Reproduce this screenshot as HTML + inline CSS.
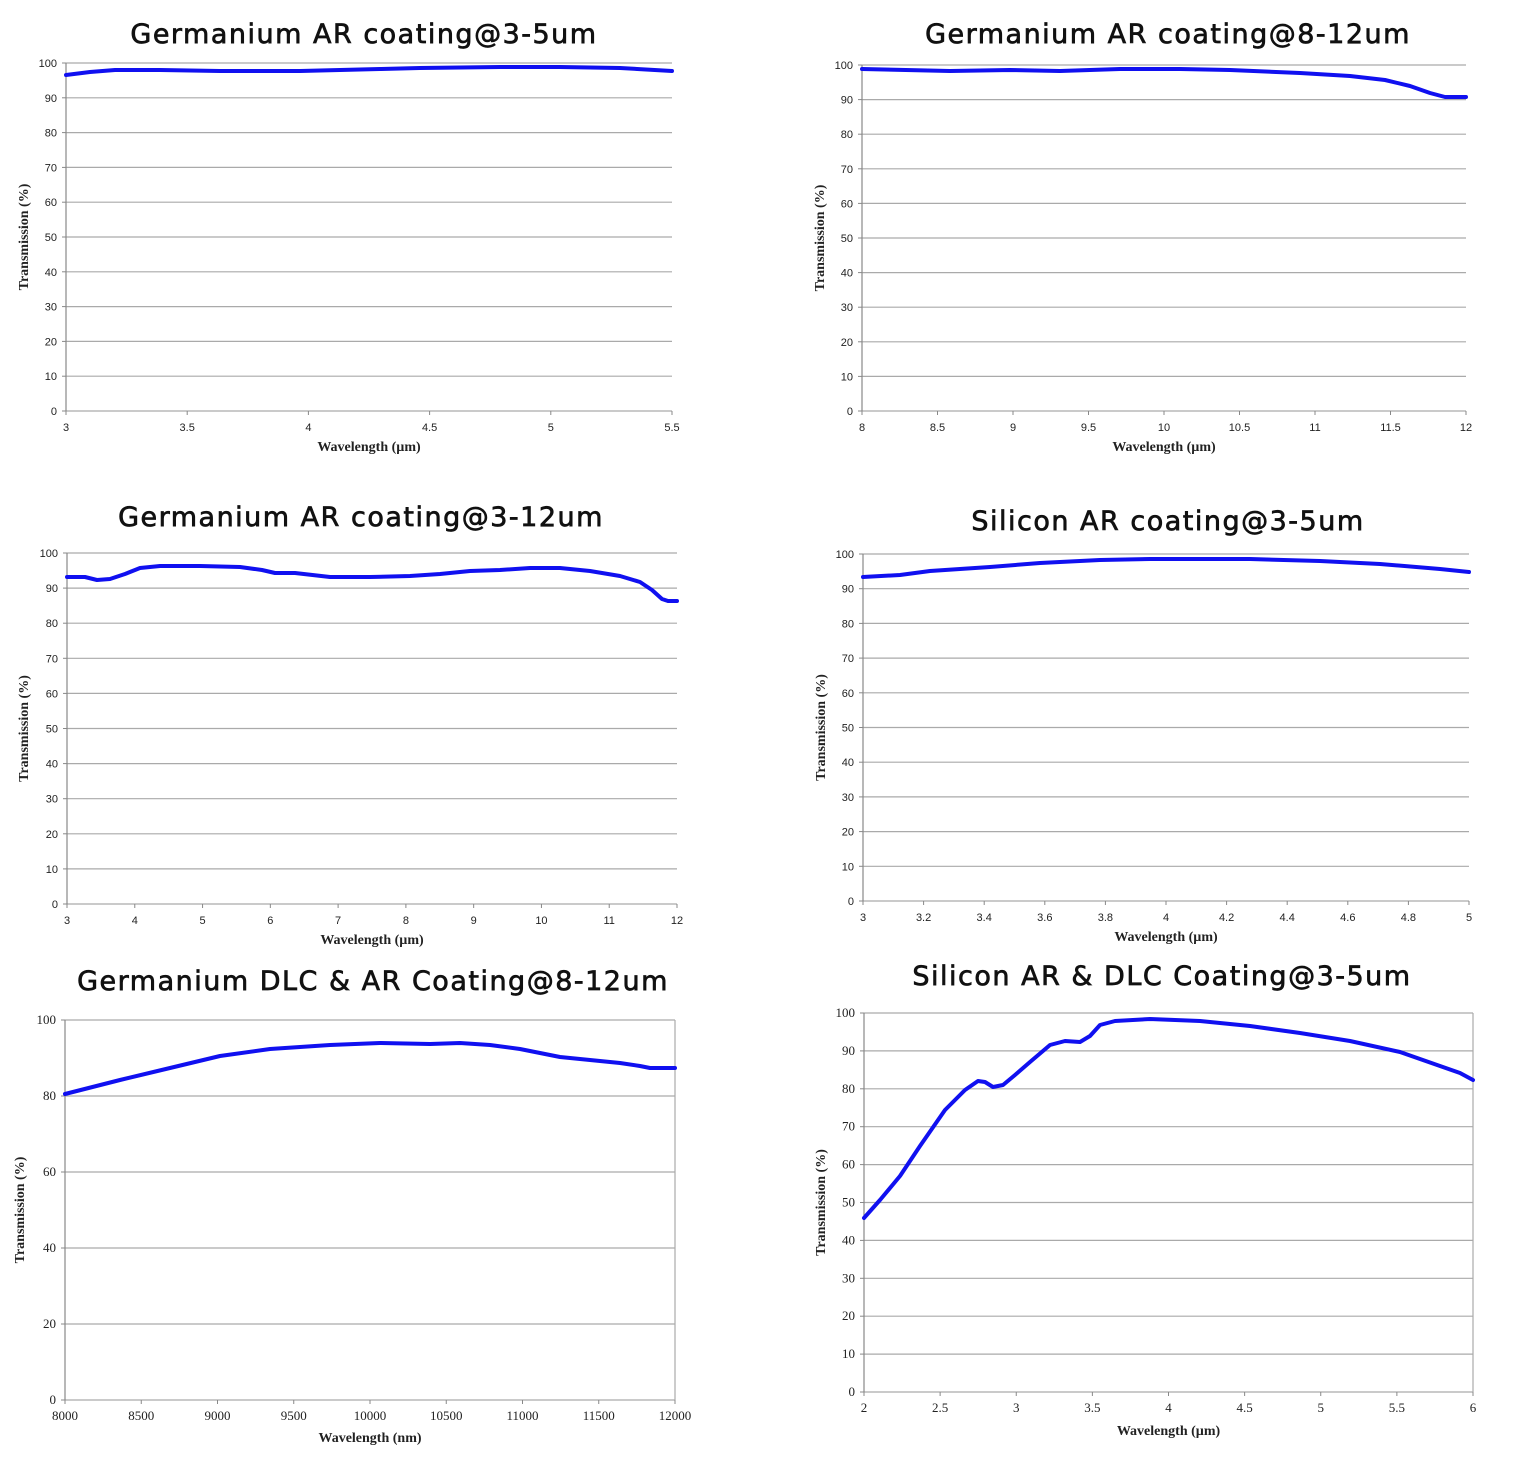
<!DOCTYPE html>
<html><head><meta charset="utf-8"><style>
body{margin:0;background:#fff;width:1521px;height:1482px;overflow:hidden}
svg{display:block}
.t{font-family:"DejaVu Sans","Liberation Sans",sans-serif;font-size:27px;letter-spacing:1.5px;fill:#111;stroke:#111;stroke-width:0.7px;text-anchor:middle}
.tk{font-family:"Liberation Sans",sans-serif;font-size:11px;fill:#222}
.tk5{font-family:"Liberation Serif",serif;font-size:13px;fill:#222}
.lb{font-family:"Liberation Serif",serif;font-weight:bold;font-size:14px;fill:#222;text-anchor:middle}
</style></head><body>
<svg id="s" width="1521" height="1482" xmlns="http://www.w3.org/2000/svg"></svg>
<script>
const C=[
{x0:66,x1:672,yt:63,yb:411,ys:[0,100,10],xs:[3,5.5,0.5],title:"Germanium AR coating@3-5um",tx:364,ty:43,xl:"Wavelength (µm)",xly:451,ylx:28,cls:"tk",
p:[[66,75],[90,72],[115,70],[160,70],[220,71],[300,71],[380,69],[420,68],[500,67],[560,67],[620,68],[672,71]]},
{x0:862,x1:1466,yt:65,yb:411,ys:[0,100,10],xs:[8,12,0.5],title:"Germanium AR coating@8-12um",tx:1168,ty:43,xl:"Wavelength (µm)",xly:451,ylx:824,cls:"tk",
p:[[862,69],[950,71],[1010,70],[1060,71],[1120,69],[1180,69],[1230,70],[1300,73],[1350,76],[1385,80],[1410,86],[1430,93],[1445,97],[1466,97]]},
{x0:67,x1:677,yt:553,yb:904,ys:[0,100,10],xs:[3,12,1],title:"Germanium AR coating@3-12um",tx:361,ty:526,xl:"Wavelength (µm)",xly:944,ylx:28,cls:"tk",
p:[[67,577],[85,577],[97,580],[110,579],[125,574],[140,568],[160,566],[200,566],[240,567],[262,570],[275,573],[295,573],[330,577],[370,577],[410,576],[440,574],[470,571],[500,570],[530,568],[560,568],[590,571],[620,576],[640,582],[652,590],[662,599],[668,601],[677,601]]},
{x0:863,x1:1469,yt:554,yb:901,ys:[0,100,10],xs:[3,5,0.2],title:"Silicon AR coating@3-5um",tx:1168,ty:530,xl:"Wavelength (µm)",xly:941,ylx:825,cls:"tk",
p:[[863,577],[900,575],[930,571],[960,569],[990,567],[1040,563],[1100,560],[1150,559],[1250,559],[1320,561],[1380,564],[1440,569],[1469,572]]},
{x0:65,x1:675,yt:1020,yb:1400,ys:[0,100,20],xs:[8000,12000,500],title:"Germanium DLC & AR Coating@8-12um",tx:373,ty:990,xl:"Wavelength (nm)",xly:1442,ylx:24,cls:"tk5",
p:[[65,1094],[120,1080],[170,1068],[220,1056],[270,1049],[330,1045],[380,1043],[430,1044],[460,1043],[490,1045],[520,1049],[560,1057],[590,1060],[620,1063],[640,1066],[650,1068],[675,1068]]},
{x0:864,x1:1473,yt:1013,yb:1392,ys:[0,100,10],xs:[2,6,0.5],title:"Silicon AR & DLC Coating@3-5um",tx:1162,ty:985,xl:"Wavelength (µm)",xly:1435,ylx:825,cls:"tk5",
p:[[864,1218],[880,1200],[900,1176],[920,1146],[945,1110],[965,1090],[978,1081],[985,1082],[993,1087],[1003,1085],[1015,1075],[1030,1062],[1050,1045],[1065,1041],[1080,1042],[1090,1036],[1100,1025],[1115,1021],[1150,1019],[1200,1021],[1250,1026],[1300,1033],[1350,1041],[1400,1052],[1440,1066],[1460,1073],[1473,1080]]}
];
let h="";
function fmt(v){return (Math.round(v*100)/100).toString();}
for(const c of C){
 const [a,b,st]=c.ys;
 for(let v=a;v<=b+1e-9;v+=st){
  const y=c.yb-(v-a)/(b-a)*(c.yb-c.yt);
  h+=`<line x1="${c.x0}" x2="${c.x1}" y1="${y}" y2="${y}" stroke="#aaa" stroke-width="1.2"/>`;
  h+=`<line x1="${c.x0-4}" x2="${c.x0}" y1="${y}" y2="${y}" stroke="#888"/>`;
  h+=`<text class="${c.cls}" x="${c.x0-9}" y="${y+4}" text-anchor="end">${fmt(v)}</text>`;
 }
 const [xa,xb,xs]=c.xs;const n=Math.round((xb-xa)/xs);
 for(let i=0;i<=n;i++){
  const v=xa+i*xs;const x=c.x0+i/n*(c.x1-c.x0);
  h+=`<line x1="${x}" x2="${x}" y1="${c.yb}" y2="${c.yb+4}" stroke="#888"/>`;
  h+=`<text class="${c.cls}" x="${x}" y="${c.yb+20}" text-anchor="middle">${fmt(v)}</text>`;
 }
 h+=`<line x1="${c.x0}" x2="${c.x0}" y1="${c.yt}" y2="${c.yb}" stroke="#888" stroke-width="1.2"/>`;
 if(c.cls=="tk5")h+=`<line x1="${c.x1}" x2="${c.x1}" y1="${c.yt}" y2="${c.yb}" stroke="#aaa" stroke-width="1.2"/>`;
 h+=`<text class="t" x="${c.tx}" y="${c.ty}">${c.title.replace("&","&amp;")}</text>`;
 h+=`<text class="lb" x="${(c.x0+c.x1)/2}" y="${c.xly}">${c.xl}</text>`;
 const cy=(c.yt+c.yb)/2;
 h+=`<text class="lb" transform="translate(${c.ylx},${cy}) rotate(-90)" x="0" y="0">Transmission (%)</text>`;
 h+=`<polyline points="${c.p.map(q=>q.join(',')).join(' ')}" fill="none" stroke="#1010f0" stroke-width="4" stroke-linejoin="round" stroke-linecap="round"/>`;
}
document.getElementById("s").innerHTML=h;
</script>
</body></html>
